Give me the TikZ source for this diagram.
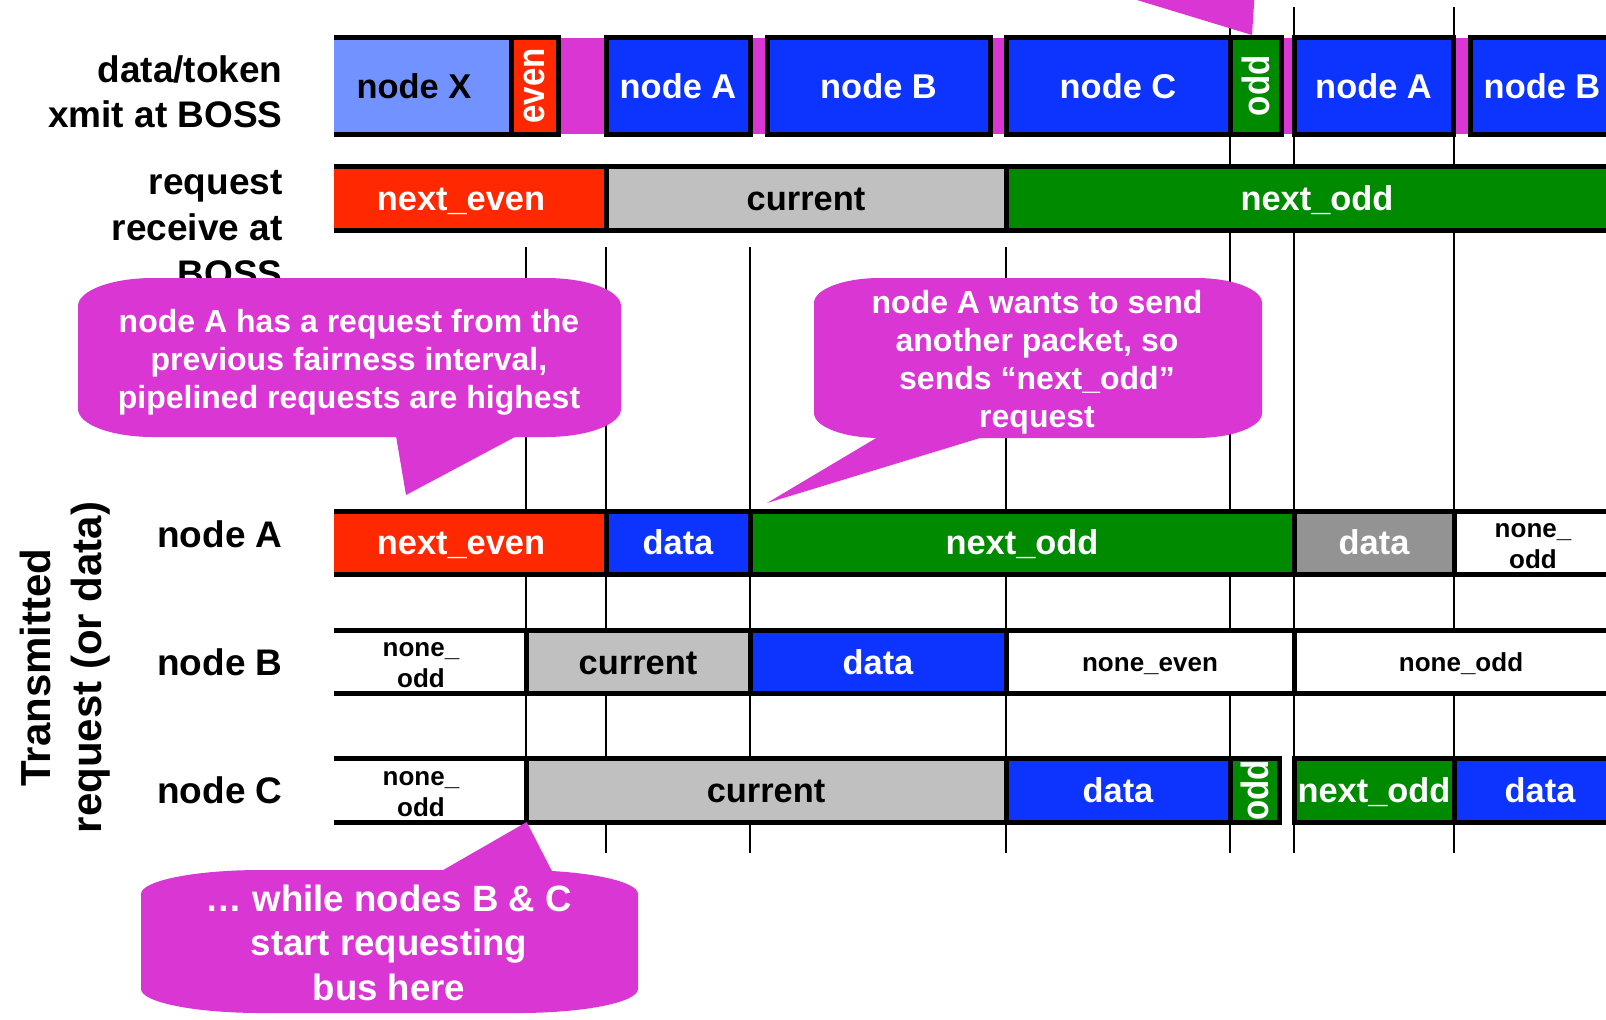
\documentclass[tikz,border=0pt]{standalone}
\usepackage{fontspec}
\setmainfont{Liberation Sans}
\usetikzlibrary{fit}

\definecolor{cLight}{RGB}{114,146,255}
\definecolor{cBlue}{RGB}{13,51,255}
\definecolor{cRed}{RGB}{255,40,0}
\definecolor{cGreen}{RGB}{0,138,0}
\definecolor{cGrayL}{RGB}{191,192,191}
\definecolor{cGrayD}{RGB}{147,147,147}
\definecolor{cPink}{RGB}{217,54,212}

% speech bubble body: left, top, right, bottom, corner radii (all in px)
\newcommand\roundbubble[6]{%
  \fill[cPink] ({#1+#5},{-(#2)}) -- ({#3-#5},{-(#2)})
    arc[start angle=90,end angle=0,x radius={#5*0.5pt},y radius={#6*0.5pt}]
    -- ({#3},{-(#4)+#6})
    arc[start angle=0,end angle=-90,x radius={#5*0.5pt},y radius={#6*0.5pt}]
    -- ({#1+#5},{-(#4)})
    arc[start angle=270,end angle=180,x radius={#5*0.5pt},y radius={#6*0.5pt}]
    -- ({#1},{-(#2)-#6})
    arc[start angle=180,end angle=90,x radius={#5*0.5pt},y radius={#6*0.5pt}]
    -- cycle;}

\begin{document}
\begin{tikzpicture}[x=0.5pt,y=0.5pt,
  cell/.style={rectangle,inner sep=0pt,outer sep=0pt,draw=black,line width=2.5pt},
  opencell/.style={rectangle,inner sep=0pt,outer sep=0pt,draw=none},
  rule/.style={line width=2.5pt,line cap=butt},
  gridline/.style={line width=1pt},
  txt/.style={font=\fontsize{17.2}{20}\selectfont\bfseries,inner sep=0pt,text height=12.3pt,text depth=0pt},
  txtsmall/.style={font=\fontsize{13}{15.5}\selectfont\bfseries,inner sep=0pt,text height=9.3pt,text depth=0pt},
  smallpair/.style={font=\fontsize{13}{15.5}\selectfont\bfseries,inner sep=0pt,align=center},
  rottxt/.style={font=\fontsize{19}{22}\selectfont\bfseries,inner sep=0pt,rotate=90,xscale=0.87,text=white},
  lbl/.style={font=\fontsize{18.5}{22.3}\selectfont\bfseries,inner sep=0pt,align=right,anchor=base east},
  sidelbl/.style={font=\fontsize{21}{25.5}\selectfont\bfseries,inner sep=0pt,align=center,rotate=90},
  ctext/.style={font=\fontsize{16}{19}\selectfont\bfseries,inner sep=0pt,align=center,text=white},
  ctextbig/.style={font=\fontsize{18.3}{22.25}\selectfont\bfseries,inner sep=0pt,align=center,text=white}]

\useasboundingbox (0,0) rectangle (1606,-1019);
\clip (0,0) rectangle (1606,-1019);

% time grid
\foreach \gx in {1230,1294,1454} \draw[gridline] (\gx,-7) -- (\gx,-853);
\foreach \gx in {526,606,750,1006} \draw[gridline] (\gx,-247) -- (\gx,-853);

% ---- data/token xmit at BOSS ----
\fill[cPink] (540,-37.7) rectangle (1650,-134);
\node[opencell,fill=cLight,fit={(334,-37.7)(511,-134)}] (xX) {};
\draw[rule] (xX.north west) -- (xX.north east) (xX.south west) -- (xX.south east);
\node[cell,fill=cRed,fit={(511,-37.7)(558,-134)}] (xEven) {};
\node[cell,fill=cBlue,fit={(606,-37.7)(750,-134)}] (xA) {};
\node[cell,fill=cBlue,fit={(767,-37.7)(990,-134)}] (xB) {};
\node[cell,fill=cBlue,fit={(1006,-37.7)(1230,-134)}] (xC) {};
\node[cell,fill=cGreen,fit={(1230,-37.7)(1281,-134)}] (xOdd) {};
\node[cell,fill=cBlue,fit={(1294,-37.7)(1453,-134)}] (xA2) {};
\node[cell,fill=cBlue,fit={(1470,-37.7)(1614,-134)}] (xB2) {};
\node[txt] (tX) at (414,-86) {node X};
\node[rottxt] (tEven) at (xEven.center) {even};
\node[txt,text=white] (tA) at (xA.center) {node A};
\node[txt,text=white] (tB) at (xB.center) {node B};
\node[txt,text=white] (tC) at (xC.center) {node C};
\node[rottxt] (tOdd) at (xOdd.center) {odd};
\node[txt,text=white] (tA2) at (xA2.center) {node A};
\node[txt,text=white] (tB2) at (xB2.center) {node B};

% ---- request receive at BOSS ----
\node[opencell,fill=cRed,fit={(334,-166)(606,-230)}] (rNE) {};
\draw[rule] (rNE.north west) -- (rNE.north east) (rNE.south west) -- (rNE.south east);
\node[cell,fill=cGrayL,fit={(606,-166)(1006,-230)}] (rCur) {};
\node[cell,fill=cGreen,fit={(1006,-166)(1628,-230)}] (rNO) {};
\node[txt,text=white] (trNE) at (461,-198) {next\_even};
\node[txt] (trCur) at (rCur.center) {current};
\node[txt,text=white] (trNO) at (rNO.center) {next\_odd};

% ---- node A ----
\node[opencell,fill=cRed,fit={(334,-511)(606,-574)}] (aNE) {};
\draw[rule] (aNE.north west) -- (aNE.north east) (aNE.south west) -- (aNE.south east);
\node[cell,fill=cBlue,fit={(606,-511)(750,-574)}] (aD) {};
\node[cell,fill=cGreen,fit={(750,-511)(1294,-574)}] (aNO) {};
\node[cell,fill=cGrayD,fit={(1294,-511)(1454,-574)}] (aD2) {};
\node[cell,fill=white,fit={(1454,-511)(1612,-574)}] (aN) {};
\node[txt,text=white] (taNE) at (461,-542.5) {next\_even};
\node[txt,text=white] (taD) at (aD.center) {data};
\node[txt,text=white] (taNO) at (aNO.center) {next\_odd};
\node[txt,text=white] (taD2) at (aD2.center) {data};
\node[smallpair] (taN) at (1533,-546.2) {none\_\\odd};

% ---- node B ----
\node[opencell,fill=white,fit={(334,-630)(526,-693.5)}] (bN) {};
\draw[rule] (bN.north west) -- (bN.north east) (bN.south west) -- (bN.south east);
\node[cell,fill=cGrayL,fit={(526,-630)(750,-693.5)}] (bCur) {};
\node[cell,fill=cBlue,fit={(750,-630)(1006,-693.5)}] (bD) {};
\node[cell,fill=white,fit={(1006,-630)(1294,-693.5)}] (bNE) {};
\node[cell,fill=white,fit={(1294,-630)(1628,-693.5)}] (bNO) {};
\node[smallpair] (tbN) at (421,-665.5) {none\_\\odd};
\node[txt] (tbCur) at (bCur.center) {current};
\node[txt,text=white] (tbD) at (bD.center) {data};
\node[txtsmall] (tbNE) at (bNE.center) {none\_even};
\node[txtsmall] (tbNO) at (bNO.center) {none\_odd};

% ---- node C ----
\node[opencell,fill=white,fit={(334,-758.5)(526,-822)}] (cN) {};
\draw[rule] (cN.north west) -- (cN.north east) (cN.south west) -- (cN.south east);
\node[cell,fill=cGrayL,fit={(526,-758.5)(1006,-822)}] (cCur) {};
\node[cell,fill=cBlue,fit={(1006,-758.5)(1230,-822)}] (cD) {};
\node[cell,fill=cGreen,fit={(1230,-758.5)(1279,-822)}] (cOdd) {};
\node[cell,fill=cGreen,fit={(1294,-758.5)(1454,-822)}] (cNO) {};
\node[cell,fill=cBlue,fit={(1454,-758.5)(1626,-822)}] (cD2) {};
\node[smallpair] (tcN) at (421,-794) {none\_\\odd};
\node[txt] (tcCur) at (cCur.center) {current};
\node[txt,text=white] (tcD) at (cD.center) {data};
\node[rottxt] (tcOdd) at (cOdd.center) {odd};
\node[txt,text=white] (tcNO) at (cNO.center) {next\_odd};
\node[txt,text=white] (tcD2) at (cD2.center) {data};

% ---- row labels (anchored at the baseline of their last line) ----
\node[lbl] (lData) at (283,-127.3) {data/token\\xmit at BOSS};
\node[lbl,font=\fontsize{18.5}{23}\selectfont\bfseries] (lReq) at (283,-286) {request\\receive at\\BOSS};
\node[lbl] (lA) at (283,-547) {node A};
\node[lbl] (lB) at (283,-675) {node B};
\node[lbl] (lC) at (283,-803) {node C};
\node[sidelbl] (lSide) at (65,-667.5) {Transmitted\\request (or data)};

% ---- callouts ----
\fill[cPink] (1104,10) -- (1252,-35) -- (1255,10) -- cycle;

\roundbubble{78}{278}{621}{437}{75}{28}
\fill[cPink] (395,-430) -- (406,-495) -- (528,-430) -- cycle;
\node[ctext] (c1) at (349,-362.5) {node A has a request from the\\previous fairness interval,\\pipelined requests are highest};

\roundbubble{814}{278}{1262}{438}{66}{25}
\fill[cPink] (888,-431) -- (767,-503) -- (1003,-431) -- cycle;
\node[ctext] (c2) at (1037,-362.5) {node A wants to send\\another packet, so\\sends “next\_odd”\\request};

\roundbubble{141}{870}{638}{1013}{120}{24}
\fill[cPink] (431,-877) -- (526.7,-822) -- (555,-877) -- cycle;
\node[ctextbig] (c3) at (389,-942.5) {… while nodes B \& C\\start requesting\\bus here};

\end{tikzpicture}
\end{document}
